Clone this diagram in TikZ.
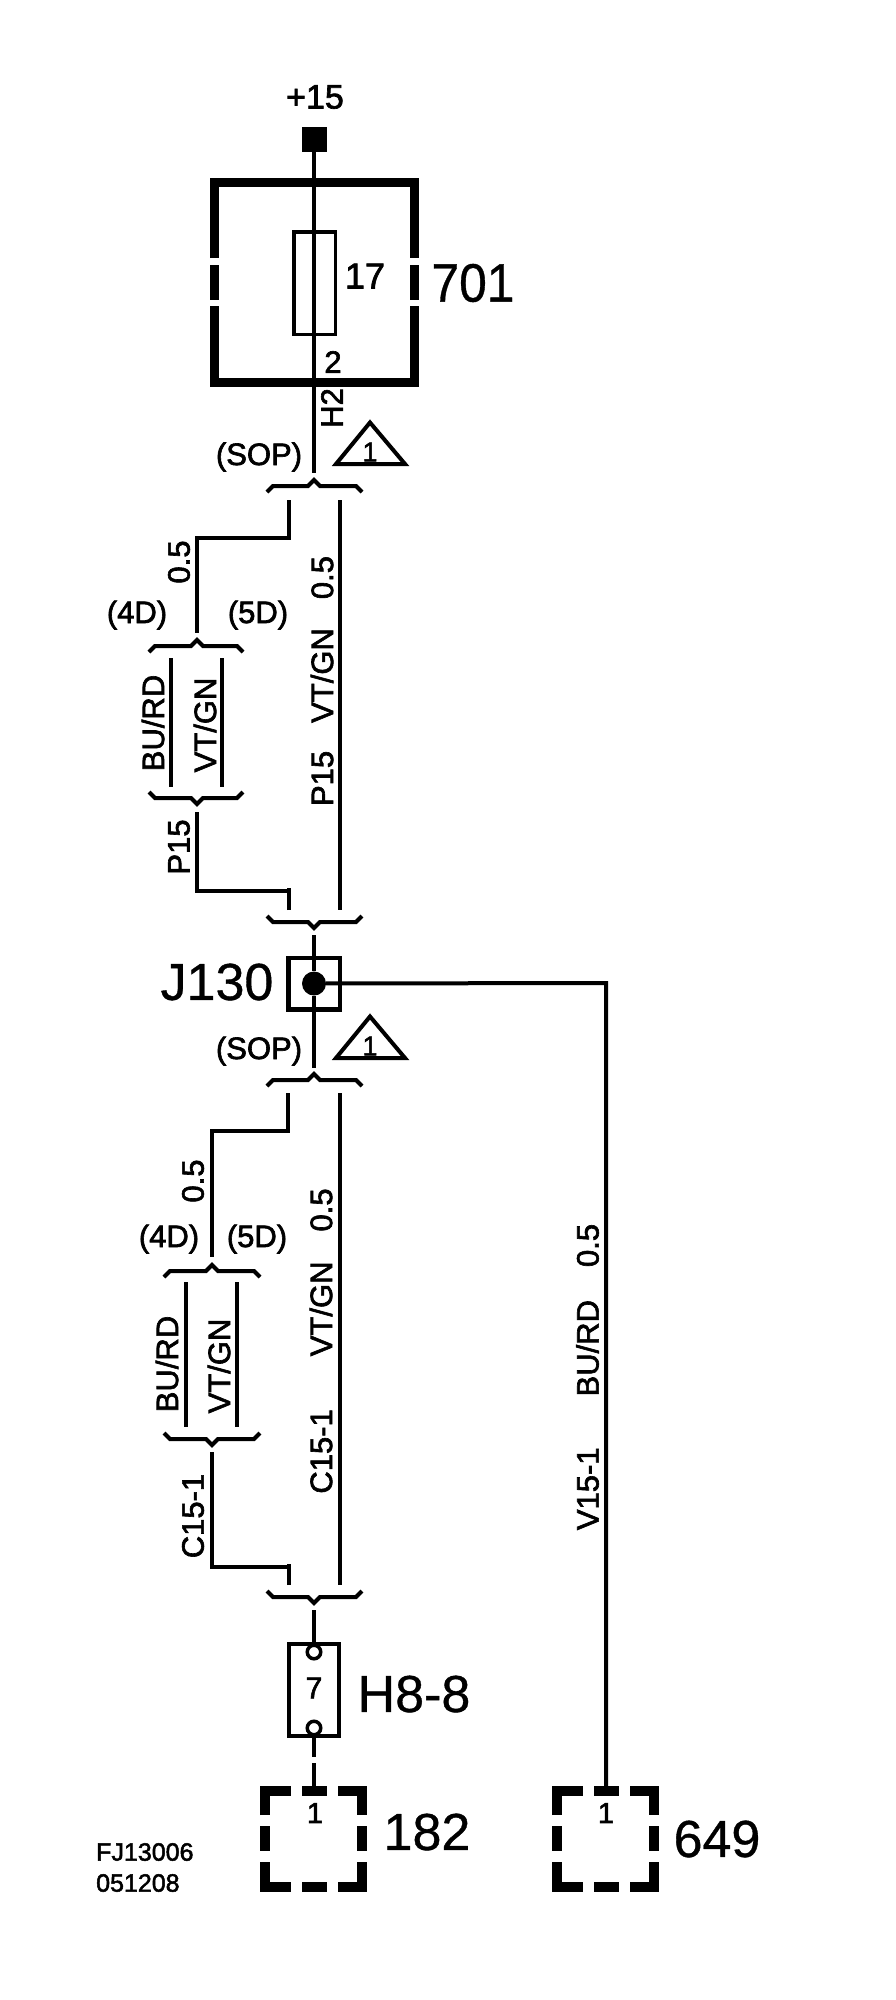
\documentclass[tikz,border=0pt]{standalone}
\usepackage{fontspec}
\setmainfont[RawFeature={embolden=2}]{Liberation Sans}
\newfontfamily\bigfont[RawFeature={embolden=.7}]{Liberation Sans}
\usepackage{tikz}
\tikzset{
	wire/.style={line width=4pt},
	thickwire/.style={line width=4.5pt},
	heavy/.style={line width=9pt},
	dashheavy/.style={line width=10pt,line cap=butt,line join=miter},
	bracket/.style={line width=4pt},
	lab/.style={font=\fontsize{31}{36}\selectfont,inner sep=0pt},
	rotlab/.style={lab,rotate=90},
	biglab/.style={font=\bigfont\fontsize{52}{56}\selectfont,inner sep=0pt},
	notelab/.style={font=\fontsize{25}{30}\selectfont,inner sep=0pt,anchor=west},
	pinbox/.style={draw,inner sep=0pt},
	pincircle/.style={circle,draw,line width=3.5pt,fill=white,minimum size=13.5pt,inner sep=0pt},
}
\begin{document}
\begin{tikzpicture}[x=1pt,y=-1pt]
	\useasboundingbox (0,0) rectangle (896,2000);
	% fuse block 701
	\node[fill=black,minimum size=25pt,inner sep=0pt] (plus15) at (314,139) {};
	\node[lab,font=\fontsize{34}{38}\selectfont] (t15) at (315,97) {+15};
	\node[pinbox,line width=3.5pt,minimum width=41.5pt,minimum height=102.5pt] (fuse17) at (314.5,283) {};
	\node[lab,font=\fontsize{36}{40}\selectfont] (t17) at (365,276) {17};
	\node[lab] (t2) at (333,362) {2};
	\node[biglab,font=\bigfont\fontsize{54}{58}\selectfont,xscale=.92] (t701) at (473,283) {701};
	\draw[heavy] (214.5,258) -- (214.5,182.5) -- (414.5,182.5) -- (414.5,258);
	\draw[heavy] (214.5,306) -- (214.5,382.5) -- (414.5,382.5) -- (414.5,306);
	\foreach \gx in {214.5,414.5}
		\draw[heavy] (\gx,265) -- (\gx,300);
	\coordinate (sopA) at (314,473);
	\draw[thickwire] (plus15) -- (sopA);
	\node[rotlab] (tH2) at (332,408) {H2};
	% the two SOP notes
	\foreach \nm/\ty in {A/0,B/594}{
		\node[lab] (sop\nm) at (259,457+\ty) {(SOP)};
		\draw[line width=4pt] (336,464+\ty) -- (370,422.5+\ty) -- (405,464+\ty) -- cycle;
		\node[lab,font=\fontsize{27}{30}\selectfont] (tri\nm) at (370,452+\ty) {1};
	}
	% brackets, tip up for 1 and tip down for -1
	\foreach \lx/\mx/\rx/\by/\sg in {267/314/362/486/1, 149/197/243/646/1, 149/197/243/798/-1, 267/314/362/922/-1,
		267/314/362/1080/1, 164/212/260/1271/1, 164/212/260/1439/-1, 267/314/362/1597/-1}
		\draw[bracket] (\lx,\by+6*\sg) -- (\lx+6,\by) -- (\mx-6,\by) -- (\mx,\by-6*\sg) -- (\mx+6,\by) -- (\rx-6,\by) -- (\rx,\by+6*\sg);
	% upper harness
	\coordinate (u1) at (289,500);
	\coordinate (u2) at (197,633);
	\coordinate (u3) at (197,812);
	\coordinate (u4) at (289,910);
	\coordinate (u5) at (340,500);
	\coordinate (u6) at (340,910);
	\coordinate (u7) at (171,658);
	\coordinate (u8) at (171,787);
	\coordinate (u9) at (222,658);
	\coordinate (u10) at (222,787);
	\draw[thickwire] (u1) -- ++(0,38) -| (u2);
	\draw[wire] (u3) -- ++(0,79) -- ++(92,0);
	\draw[thickwire] (u4) -- ++(0,-22);
	\draw[wire] (u5) -- (u6);
	\draw[wire] (u7) -- (u8);
	\draw[wire] (u9) -- (u10);
	\node[rotlab] (u05) at (179,562) {0.5};
	\node[lab] (u4D) at (137,615) {(4D)};
	\node[lab] (u5D) at (258,615) {(5D)};
	\node[rotlab] (uBU) at (153,723) {BU/RD};
	\node[rotlab] (uVT) at (205,725) {VT/GN};
	\node[rotlab] (uP15) at (179,847) {P15};
	\node[rotlab] (uMain) at (322,681) {P15\hspace{28pt}VT/GN\hspace{29pt}0.5};
	% splice J130
	\node[pinbox,line width=4.5pt,minimum size=51.5pt] (j130) at (314,983.5) {};
	\node[circle,fill=black,minimum size=24pt,inner sep=0pt] (jdot) at (314,983.5) {};
	\node[biglab] (tJ130) at (217,982) {J130};
	\coordinate (jtop) at (314,935);
	\coordinate (jbot) at (314,1068);
	\coordinate (tee) at (606,983);
	\coordinate (p649) at (606,1791);
	\draw[thickwire] (jtop) -- (jdot);
	\draw[thickwire] (jdot) -- (jbot);
	\draw[wire] (jdot) -- (tee) -- (p649);
	% lower harness
	\coordinate (l1) at (288,1093);
	\coordinate (l2) at (212,1257);
	\coordinate (l3) at (212,1452);
	\coordinate (l4) at (289,1585);
	\coordinate (l5) at (340,1093);
	\coordinate (l6) at (340,1585);
	\coordinate (l7) at (186,1282);
	\coordinate (l8) at (186,1427);
	\coordinate (l9) at (237,1282);
	\coordinate (l10) at (237,1427);
	\draw[thickwire] (l1) -- ++(0,38) -| (l2);
	\draw[wire] (l3) -- ++(0,115) -- ++(77,0);
	\draw[thickwire] (l4) -- ++(0,-21);
	\draw[wire] (l5) -- (l6);
	\draw[wire] (l7) -- (l8);
	\draw[wire] (l9) -- (l10);
	\node[rotlab] (l05) at (193,1181) {0.5};
	\node[lab] (l4D) at (169,1239) {(4D)};
	\node[lab] (l5D) at (257,1239) {(5D)};
	\node[rotlab] (lBU) at (167,1364) {BU/RD};
	\node[rotlab] (lVT) at (219,1366) {VT/GN};
	\node[rotlab] (lC15) at (193,1516) {C15-1};
	\node[rotlab] (lMain) at (321,1341) {C15-1\hspace{53pt}VT/GN\hspace{30pt}0.5};
	\node[rotlab] (rMain) at (587.5,1377) {V15-1\hspace{51pt}BU/RD\hspace{33pt}0.5};
	% connector H8-8
	\node[pinbox,line width=4pt,minimum width=50pt,minimum height=92pt] (h8) at (314,1690) {};
	\node[pincircle] (h8in) at (314,1652) {};
	\node[pincircle] (h8out) at (314,1728) {};
	\node[lab,font=\fontsize{30}{34}\selectfont] (t7) at (314,1688) {7};
	\node[biglab] (tH8) at (414,1694) {H8-8};
	\coordinate (h8top) at (314,1610);
	\coordinate (h8bot) at (314,1757);
	\coordinate (p182a) at (314,1763);
	\coordinate (p182b) at (314,1791);
	\draw[thickwire] (h8top) -- (h8in);
	\draw[thickwire] (h8out) -- (h8bot);
	\draw[thickwire] (p182a) -- (p182b);
	% dashed boxes 182 and 649
	\foreach \bx in {260,552}{
		\begin{scope}[shift={(\bx,1786)}]
			\draw[dashheavy] (5,29) -- (5,5) -- (31,5);
			\draw[dashheavy] (42,5) -- (67,5);
			\draw[dashheavy] (78,5) -- (102,5) -- (102,29);
			\draw[dashheavy] (5,40) -- (5,65);
			\draw[dashheavy] (102,40) -- (102,65);
			\draw[dashheavy] (5,76) -- (5,101) -- (31,101);
			\draw[dashheavy] (42,101) -- (67,101);
			\draw[dashheavy] (78,101) -- (102,101) -- (102,76);
		\end{scope}
	}
	\node[lab,font=\fontsize{29}{32}\selectfont] (pin182) at (315,1813) {1};
	\node[lab,font=\fontsize{29}{32}\selectfont] (pin649) at (606,1813) {1};
	\node[biglab] (t182) at (427,1832) {182};
	\node[biglab] (t649) at (717,1839) {649};
	\node[notelab] (tFJ) at (96,1852) {FJ13006};
	\node[notelab] (tDate) at (96,1883) {051208};
\end{tikzpicture}
\end{document}
